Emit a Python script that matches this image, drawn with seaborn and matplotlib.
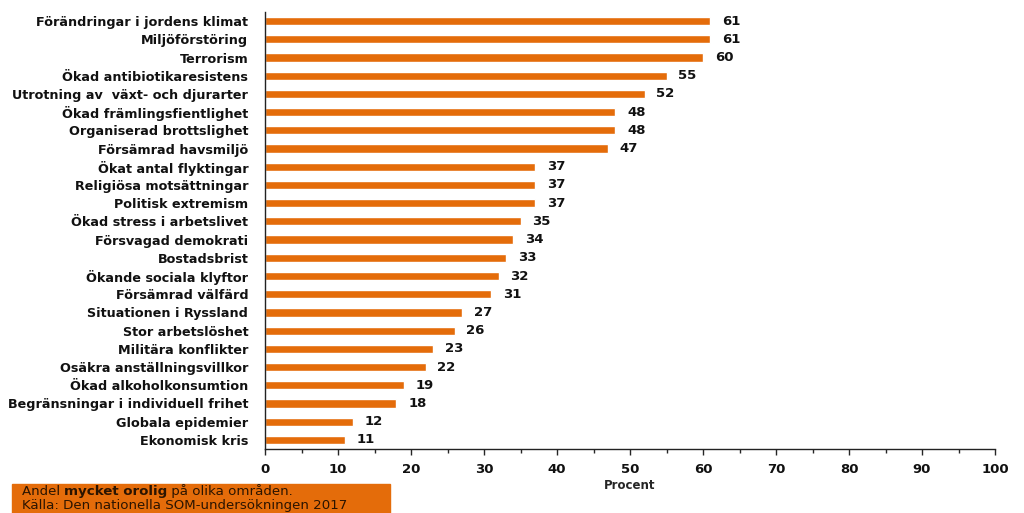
import matplotlib.pyplot as plt
import pandas as pd
import seaborn as sns
from matplotlib.patches import Rectangle
from matplotlib.text import Annotation
from matplotlib.ticker import MultipleLocator

categories = [
    'Förändringar i jordens klimat', 'Miljöförstöring', 'Terrorism',
    'Ökad antibiotikaresistens', 'Utrotning av  växt- och djurarter',
    'Ökad främlingsfientlighet', 'Organiserad brottslighet',
    'Försämrad havsmiljö', 'Ökat antal flyktingar', 'Religiösa motsättningar',
    'Politisk extremism', 'Ökad stress i arbetslivet', 'Försvagad demokrati',
    'Bostadsbrist', 'Ökande sociala klyftor', 'Försämrad välfärd',
    'Situationen i Ryssland', 'Stor arbetslöshet', 'Militära konflikter',
    'Osäkra anställningsvillkor', 'Ökad alkoholkonsumtion',
    'Begränsningar i individuell frihet', 'Globala epidemier', 'Ekonomisk kris',
]
values = [61, 61, 60, 55, 52, 48, 48, 47, 37, 37, 37, 35, 34, 33, 32, 31,
          27, 26, 23, 22, 19, 18, 12, 11]
xticks = [0, 10, 20, 30, 40, 50, 60, 70, 80, 90, 100]

orange = '#E46C0A'
df = pd.DataFrame({'omrade': categories, 'procent': values})

sns.set_style('white')
plt.rcParams['font.family'] = ['DejaVu Sans']

fig = plt.figure(figsize=(10.24, 5.13), dpi=100)
ax = fig.add_axes([0.2588, 0.1248, 0.7129, 0.8518])
sns.barplot(data=df, x='procent', y='omrade', color=orange, width=0.45,
            saturation=1, ax=ax)

for i, v in enumerate(values):
    ax.text(v + 1.6, i, str(v), va='center', ha='left', fontsize=9.5,
            fontweight='bold', color='#111111')

ax.set_xlim(0, 100)
ax.set_xticks(xticks)
ax.xaxis.set_minor_locator(MultipleLocator(5))
ax.tick_params(axis='x', which='major', direction='out', length=4,
               width=1, labelsize=9.5, pad=6, bottom=True)
ax.tick_params(axis='x', which='minor', direction='out', length=3,
               width=1, bottom=True)
ax.tick_params(axis='y', length=0, labelsize=9.2, pad=12)
for lab in ax.get_xticklabels() + ax.get_yticklabels():
    lab.set_fontweight('bold')
    lab.set_color('#111111')
ax.set_xlabel('Procent', fontsize=8.5, fontweight='bold', labelpad=2)
ax.set_ylabel('')
sns.despine(ax=ax, top=True, right=True)
for side in ('left', 'bottom'):
    ax.spines[side].set_color('#222222')
    ax.spines[side].set_linewidth(1)

fig.patches.append(Rectangle((0.0117, 0.0), 0.369, 0.0565,
                             transform=fig.transFigure, color=orange,
                             zorder=-1))
tc = '#2b1400'
fs = 9.6
t1 = fig.text(0.021, 0.030, 'Andel ', fontsize=fs, color=tc, va='bottom')
t2 = fig.add_artist(Annotation('mycket orolig', xy=(1, 0), xycoords=t1,
                               va='bottom', fontsize=fs, color=tc,
                               fontweight='bold'))
fig.add_artist(Annotation(' på olika områden.', xy=(1, 0), xycoords=t2,
                          va='bottom', fontsize=fs, color=tc))
fig.text(0.021, 0.002, 'Källa: Den nationella SOM-undersökningen 2017',
         fontsize=fs, color=tc, va='bottom')

fig.savefig('out.png', dpi=100)
plt.close(fig)
